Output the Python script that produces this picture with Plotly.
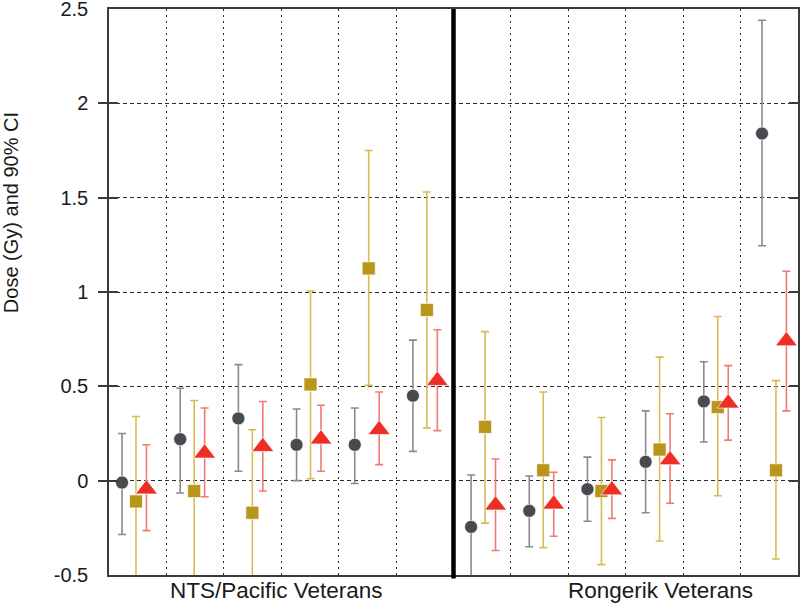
import plotly.graph_objects as go

# ---- data ----
groups = list(range(12))  # 6 NTS/Pacific cohorts, then 6 Rongerik cohorts
panel_labels = ["NTS/Pacific Veterans", "Rongerik Veterans"]

gray_val = [-0.01, 0.22, 0.33, 0.19, 0.19, 0.45, -0.245, -0.16, -0.045, 0.10, 0.42, 1.84]
gray_hi = [0.25, 0.49, 0.615, 0.38, 0.385, 0.745, 0.03, 0.025, 0.125, 0.37, 0.63, 2.44]
gray_lo = [-0.285, -0.065, 0.05, 0.0, -0.015, 0.155, -0.60, -0.35, -0.215, -0.17, 0.205, 1.245]

gold_val = [-0.11, -0.055, -0.17, 0.51, 1.125, 0.905, 0.285, 0.055, -0.055, 0.165, 0.39, 0.055]
gold_hi = [0.34, 0.425, 0.27, 1.005, 1.75, 1.53, 0.79, 0.47, 0.335, 0.655, 0.87, 0.53]
gold_lo = [-0.60, -0.60, -0.60, 0.01, 0.505, 0.28, -0.225, -0.355, -0.445, -0.32, -0.08, -0.415]

red_val = [-0.045, 0.145, 0.18, 0.22, 0.27, 0.53, -0.13, -0.125, -0.05, 0.11, 0.41, 0.74]
red_hi = [0.19, 0.385, 0.42, 0.40, 0.47, 0.80, 0.115, 0.045, 0.11, 0.355, 0.61, 1.11]
red_lo = [-0.265, -0.085, -0.055, 0.05, 0.085, 0.265, -0.37, -0.295, -0.2, -0.12, 0.215, 0.37]

y_ticks = [-0.5, 0, 0.5, 1, 1.5, 2, 2.5]
y_ticktext = ["-0.5", "0", "0.5", "1", "1.5", "2", "2.5"]

FONT = "Liberation Sans, Arial, sans-serif"

series = [
    ("Estimate A", gray_val, gray_hi, gray_lo, -0.24, "circle", 13, "#474b50", "#8a8a8a"),
    ("Estimate B", gold_val, gold_hi, gold_lo, 0.0, "square", 13, "#b8961c", "#d8bb55"),
    ("Estimate C", red_val, red_hi, red_lo, 0.18, "triangle-up", 19, "#ee2e24", "#f27a72"),
]

fig = go.Figure()
for name, v, hi, lo, off, sym, size, mcol, ecol in series:
    fig.add_trace(go.Scatter(
        x=[g + off for g in groups], y=v, name=name, mode="markers",
        xaxis="x2", yaxis="y",
        marker=dict(symbol=sym, size=size, color=mcol,
                    line=dict(width=0.8, color="rgba(255,255,255,0.8)")),
        error_y=dict(type="data", symmetric=False,
                     array=[h - a for h, a in zip(hi, v)],
                     arrayminus=[a - l for a, l in zip(v, lo)],
                     color=ecol, thickness=1.6, width=4),
        showlegend=False,
    ))

fig.update_layout(
    template="none",
    width=800, height=604,
    margin=dict(l=109, r=2, t=9, b=29, autoexpand=False),
    paper_bgcolor="white", plot_bgcolor="white",
    font=dict(family=FONT, color="#1a1a1a"),
    showlegend=False,
    xaxis=dict(range=[0, 12], tickvals=list(range(1, 12)), showticklabels=False,
               showgrid=True, gridcolor="#2b2b2b", gridwidth=1.3, griddash="2px,4px",
               showline=True, linecolor="#3a3a3a", linewidth=1.5, mirror=True,
               zeroline=False, ticks="", automargin=False),
    xaxis2=dict(range=[-0.464, 11.379], overlaying="x", visible=False,
                showgrid=False, zeroline=False, automargin=False),
    yaxis=dict(range=[-0.5, 2.5], tickvals=y_ticks, ticktext=y_ticktext,
               showgrid=True, gridcolor="#2b2b2b", gridwidth=1.3, griddash="4px,3px",
               showline=True, linecolor="#3a3a3a", linewidth=1.5, mirror="allticks",
               ticks="inside", ticklen=9, tickcolor="#3a3a3a", tickwidth=1.5,
               ticklabelstandoff=15, ticklabeloverflow="allow", automargin=False,
               tickfont=dict(size=20, family=FONT, color="#1a1a1a"),
               zeroline=False),
    shapes=[dict(type="line", xref="x", yref="paper", x0=6, x1=6, y0=-0.006, y1=1,
                 line=dict(color="black", width=4.5))],
    annotations=[
        dict(text=panel_labels[0], xref="x", yref="paper", x=2.91, y=-0.027,
             showarrow=False, xanchor="center", yanchor="middle",
             font=dict(size=22.5, family=FONT, color="#1a1a1a")),
        dict(text=panel_labels[1], xref="x", yref="paper", x=9.6, y=-0.027,
             showarrow=False, xanchor="center", yanchor="middle",
             font=dict(size=22.5, family=FONT, color="#1a1a1a")),
        dict(text="Dose (Gy) and 90% CI", xref="paper", yref="paper",
             x=-0.142, y=1 - (213 - 9) / 566, textangle=-90, showarrow=False,
             xanchor="center", yanchor="middle",
             font=dict(size=20, family=FONT, color="#1a1a1a")),
    ],
)

fig.write_html("out.html", config={"displayModeBar": False},
               post_script="document.body.style.margin='0';document.body.style.overflow='hidden';")
